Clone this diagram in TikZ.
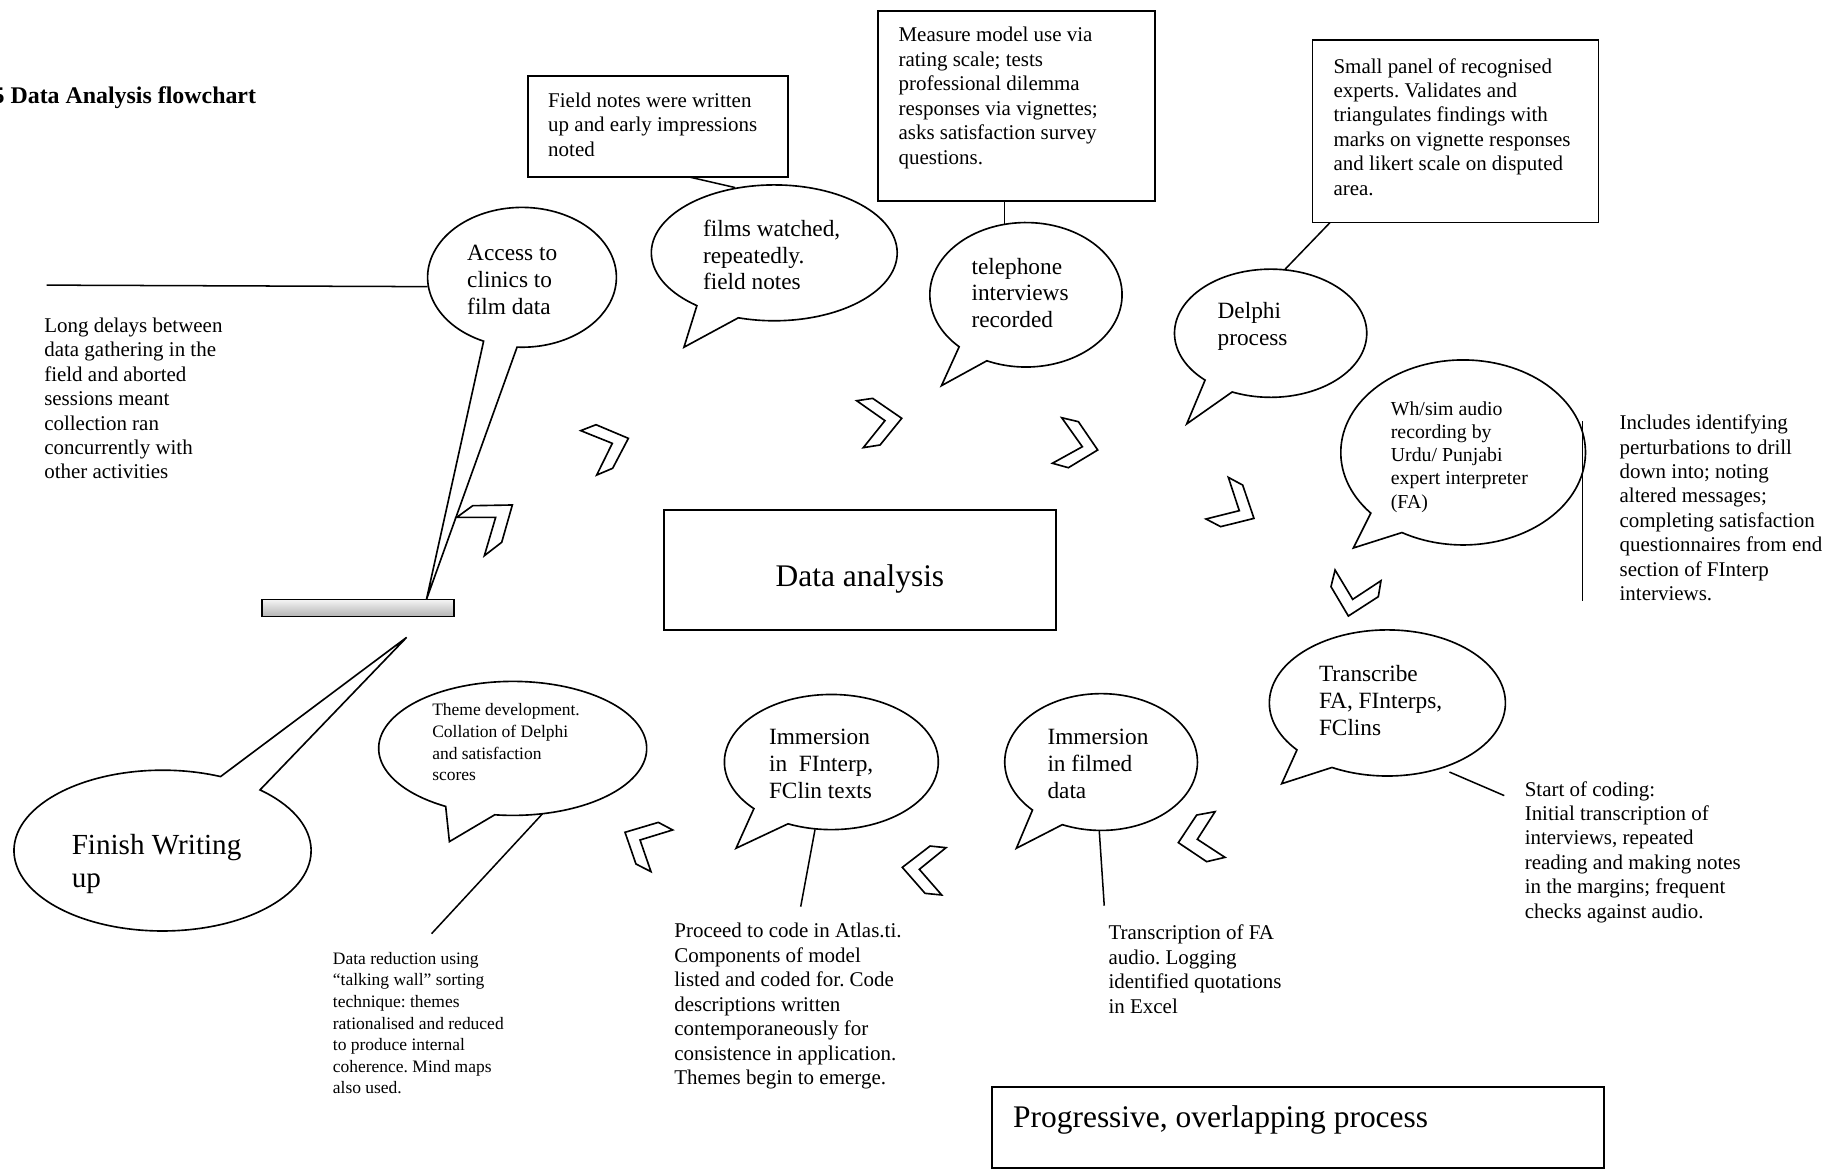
\documentclass[tikz,border=0pt]{standalone}
\usepackage{fontspec}
\setmainfont{Liberation Serif}
\frenchspacing
\begin{document}
\begin{tikzpicture}[x=1pt,y=-1pt,
  bub/.style={draw, line width=1.4pt, fill=white, line join=miter},
  boxn/.style={draw, line width=1.4pt, anchor=north west, inner sep=0pt, outer sep=0pt},
  chev/.style={draw, line width=1.4pt, fill=white, line join=miter},
  conn/.style={line width=1.3pt},
  txt/.style={anchor=north west, inner sep=0pt, outer sep=0pt, align=left, font=\fontsize{18}{21}\selectfont},
  stxt/.style={txt, font=\fontsize{15}{18.5}\selectfont},
  mtxt/.style={txt, font=\fontsize{17}{20}\selectfont},
  btxt/.style={txt, font=\fontsize{20}{23}\selectfont},
  bigtxt/.style={inner sep=0pt, outer sep=0pt, font=\fontsize{27}{30}\selectfont}]
\useasboundingbox (0,0) rectangle (1568,1003.27);

% title
\node[anchor=base west, inner sep=0pt, font=\fontsize{20.5}{24}\selectfont\bfseries] (title) at (-6.5,88.6) {5 Data Analysis flowchart};

% boxes
\node[boxn, minimum width=223.5, minimum height=86.8] (fieldbox) at (453,65) {};
\node[boxn, minimum width=237.3, minimum height=163.2] (measurebox) at (753.7,9.2) {};
\node[boxn, minimum width=245.5, minimum height=156.4] (panelbox) at (1126.5,34.6) {};
\node[boxn, minimum width=336.3, minimum height=102.9] (dabox) at (570,437.7) {};
\node[boxn, minimum width=525.2, minimum height=69.3] (progbox) at (851.4,933) {};

% bar
\node[draw, line width=1.3pt, anchor=north west, inner sep=0pt, outer sep=0pt,
      minimum width=164.7, minimum height=14.8,
      top color=gray!8, middle color=gray!35, bottom color=gray!60] (bar) at (225,514.4) {};

% speech bubbles
\draw[bub] (448,238) ++(114:81 and 60) arc[start angle=114, end angle=453, x radius=81, y radius=60] -- (366,514.5) -- cycle;
\draw[bub] (664.5,217) ++(129:105.5 and 58.3) arc[start angle=129, end angle=467, x radius=105.5, y radius=58.3] -- (587,298) -- cycle;
\draw[bub] (880.5,253) ++(134:82.5 and 62) arc[start angle=134, end angle=474, x radius=82.5, y radius=62] -- (808,331) -- cycle;
\draw[bub] (1090.5,286) ++(133:82.5 and 55) arc[start angle=133, end angle=473.6, x radius=82.5, y radius=55] -- (1018.5,363.8) -- cycle;
\draw[bub] (1255.7,388.3) ++(139:105 and 79.4) arc[start angle=139, end angle=480, x radius=105, y radius=79.4] -- (1161.5,470.3) -- cycle;
\draw[bub] (1190.7,603.3) ++(140:101.3 and 62.7) arc[start angle=140, end angle=478, x radius=101.3, y radius=62.7] -- (1100,672.6) -- cycle;
\draw[bub] (945,654) ++(135.4:82.7 and 58.7) arc[start angle=135.4, end angle=473.7, x radius=82.7, y radius=58.7] -- (872.3,728) -- cycle;
\draw[bub] (713.5,654) ++(136.4:91.8 and 58) arc[start angle=136.4, end angle=473.9, x radius=91.8, y radius=58] -- (631.7,728) -- cycle;
\draw[bub] (440,642.3) ++(120:115 and 57.5) arc[start angle=120, end angle=457.7, x radius=115, y radius=57.5] -- (385.7,722.3) -- cycle;
\draw[bub] (139.5,730) ++(311:127.5 and 69) arc[start angle=311, end angle=653, x radius=127.5, y radius=69] -- (349,547) -- cycle;

% connector end points
\coordinate (hl1) at (40,244.7);
\coordinate (hl2) at (367,246);
\coordinate (fn1) at (591,151.8);
\coordinate (fn2) at (631,161);
\coordinate (ms1) at (862,172.4);
\coordinate (ms2) at (862,192.6);
\coordinate (pn1) at (1141.5,191);
\coordinate (pn2) at (1102.4,231.6);
\coordinate (vl1) at (1358,361.5);
\coordinate (vl2) at (1358,515.7);
\coordinate (tr1) at (1244,662.6);
\coordinate (tr2) at (1291,682.8);
\coordinate (im1) at (943.4,712.7);
\coordinate (im2) at (947.7,777.3);
\coordinate (fi1) at (699.5,711.8);
\coordinate (fi2) at (687.2,778.1);
\coordinate (th1) at (465.5,698.5);
\coordinate (th2) at (370.4,801.3);

\draw[conn] (hl1) -- (hl2);
\draw[conn] (fn1) -- (fn2);
\draw[conn] (ms1) -- (ms2);
\draw[conn] (pn1) -- (pn2);
\draw[conn] (vl1) -- (vl2);
\draw[conn] (tr1) -- (tr2);
\draw[conn] (im1) -- (im2);
\draw[conn] (fi1) -- (fi2);
\draw[conn] (th1) -- (th2);

% chevrons
\draw[chev] (498.4,369.6) -- (511.5,364.5) -- (539.3,376.2) -- (525.8,401.9) -- (512.1,407.7) -- (525.5,380.5) -- cycle;
\draw[chev] (735.2,343.9) -- (749,341.9) -- (773.9,359) -- (755.3,381.9) -- (740.9,384.2) -- (759.5,361) -- cycle;
\draw[chev] (911.2,358.5) -- (925.5,361.9) -- (942.1,386.2) -- (916.9,401.4) -- (903.2,397.6) -- (928.9,383.4) -- cycle;
\draw[chev] (1054.2,409.7) -- (1066.5,416.3) -- (1076.2,444.9) -- (1047.6,452) -- (1035,445.4) -- (1063.6,438.3) -- cycle;
\draw[chev] (1145.8,489.2) -- (1160.9,514.4) -- (1185.2,498.4) -- (1182.9,512.1) -- (1157.2,528.7) -- (1142.3,503.5) -- cycle;
\draw[chev] (1027,699.5) -- (1042.8,696.6) -- (1027.6,720.3) -- (1051.3,735.8) -- (1035.6,739.5) -- (1011.3,723.2) -- cycle;
\draw[chev] (798.2,726.1) -- (811.9,727.5) -- (789,746.1) -- (808.2,768.1) -- (793.9,766.7) -- (774.4,744.4) -- cycle;
\draw[chev] (536.4,714.3) -- (565,705.8) -- (577.3,712.3) -- (549.3,720.9) -- (558.7,748.1) -- (545.8,741.5) -- cycle;
\draw[chev] (392,444) -- (405.7,434) -- (439.7,433.4) -- (430.6,465.4) -- (415.7,476.9) -- (425.4,444) -- cycle;

% texts
\node[txt] (tdelay) at (38,272.6) {Long delays between\\data gathering in the\\field and aborted\\sessions meant\\collection ran\\concurrently with\\other activities};
\node[txt] (tfield) at (470.5,79.5) {Field notes were written\\up and early impressions\\noted};
\node[txt] (tmeasure) at (771.2,23.5) {Measure model use via\\rating scale; tests\\professional dilemma\\responses via vignettes;\\asks satisfaction survey\\questions.};
\node[txt] (tpanel) at (1144.5,50) {Small panel of recognised\\experts. Validates and\\triangulates findings with\\marks on vignette responses\\and likert scale on disputed\\area.};
\node[txt] (tincl) at (1390,356) {Includes identifying\\perturbations to drill\\down into; noting\\altered messages;\\completing satisfaction\\questionnaires from end\\section of FInterp\\interviews.};
\node[txt] (tstart) at (1308.6,670.5) {Start of coding:\\Initial transcription of\\interviews, repeated\\reading and making notes\\in the margins; frequent\\checks against audio.};
\node[txt] (ttransfa) at (951.4,794) {Transcription of FA\\audio. Logging\\identified quotations\\in Excel};
\node[txt] (tproceed) at (578.8,792.3) {Proceed to code in Atlas.ti.\\Components of model\\listed and coded for. Code\\descriptions written\\contemporaneously for\\consistence in application.\\Themes begin to emerge.};
\node[stxt] (treduce) at (285.7,817.3) {Data reduction using\\“talking wall” sorting\\technique: themes\\rationalised and reduced\\to produce internal\\coherence. Mind maps\\also used.};
\node[stxt] (ttheme) at (371,604) {Theme development.\\Collation of Delphi\\and satisfaction\\scores};
\node[mtxt] (twhsim) at (1193.7,344.4) {Wh/sim audio\\recording by\\Urdu/ Punjabi\\expert interpreter\\(FA)};
\node[btxt] (taccess) at (401,210.3) {Access to\\clinics to\\film data};
\node[btxt] (tfilms) at (603.4,188.8) {films watched,\\repeatedly.\\field notes};
\node[btxt] (ttel) at (833.8,221.3) {telephone\\interviews\\recorded};
\node[btxt] (tdelphi) at (1045,259.6) {Delphi\\process};
\node[btxt] (ttranscribe) at (1132,571.3) {Transcribe\\FA, FInterps,\\FClins};
\node[btxt] (tfilmed) at (899,625.7) {Immersion\\in filmed\\data};
\node[btxt] (tfinterp) at (660,625.7) {Immersion\\in\ \ FInterp,\\FClin texts};
\node[txt, font=\fontsize{25}{29}\selectfont] (tfinish) at (61.6,715.6) {Finish Writing\\up};
\node[bigtxt] (tda) at (738,497) {Data analysis};
\node[bigtxt, anchor=base west] (tprog) at (869.5,968) {Progressive, overlapping process};
\end{tikzpicture}
\end{document}
